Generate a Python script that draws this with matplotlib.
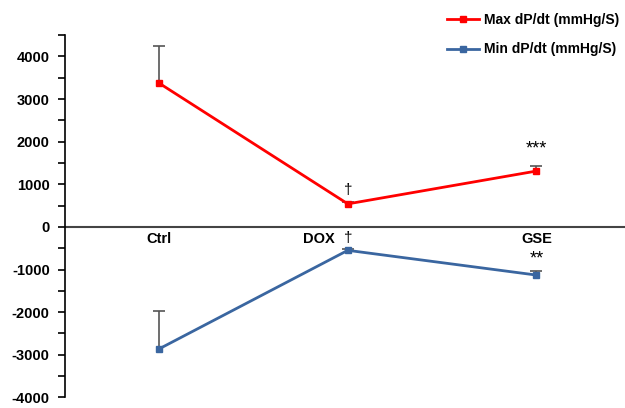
import matplotlib.pyplot as plt
from matplotlib.lines import Line2D

plt.rcParams['font.family'] = ['Liberation Sans', 'DejaVu Sans']
plt.rcParams['font.weight'] = 'bold'
plt.rcParams['axes.unicode_minus'] = False

groups = ["Ctrl", "DOX", "GSE"]
max_dpdt = [3370, 540, 1310]
max_err = [880, 40, 130]
min_dpdt = [-2860, -550, -1130]
min_err = [880, 40, 90]

RED = '#FF0000'
BLUE = '#3A66A0'
ERR = '#555555'

fig = plt.figure(figsize=(6.25, 4.08), dpi=100)
ax = fig.add_axes([0.104, 0.026, 0.905, 0.888])

x = list(range(len(groups)))


def upper_error(xs, ys, errs):
    # one-sided error bars: a stem from the point up, with a cap on top only
    tops = [y + e for y, e in zip(ys, errs)]
    ax.vlines(xs, ys, tops, color=ERR, lw=1.2, zorder=2)
    ax.plot(xs, tops, ls='none', marker='_', ms=8, mew=1.2, color=ERR, zorder=2)


upper_error(x, max_dpdt, max_err)
upper_error(x, min_dpdt, min_err)
ax.plot(x, max_dpdt, color=RED, lw=2, marker='s', ms=5, zorder=3)
ax.plot(x, min_dpdt, color=BLUE, lw=2, marker='s', ms=5, zorder=3)

ax.set_xlim(-0.5, 2.5)
ax.set_ylim(-4000, 4500)
ax.set_yticks(range(-4000, 4001, 1000))
ax.set_yticks(range(-3500, 4501, 1000), minor=True)
ax.tick_params(axis='y', which='both', direction='out', length=5, width=1.2,
               labelsize=10.5, pad=6)
ax.set_xticks([])
for side in ['top', 'right', 'bottom']:
    ax.spines[side].set_visible(False)
ax.spines['left'].set_linewidth(1.2)
ax.axhline(0, color='#444444', lw=1.5, zorder=2)

# category labels sit just below the zero line
ax.text(0, -120, "Ctrl", ha='center', va='top', fontsize=10.5)
ax.text(0.93, -120, "DOX", ha='right', va='top', fontsize=10.5)
ax.text(2, -120, "GSE", ha='center', va='top', fontsize=10.5)

# significance marks
ax.text(1, 860, "\u2020", ha='center', va='center', fontsize=11, weight='normal')
ax.text(1, -270, "\u2020", ha='center', va='center', fontsize=11, weight='normal')
ax.text(2, 1820, "***", ha='center', va='center', fontsize=13, weight='normal')
ax.text(2, -760, "**", ha='center', va='center', fontsize=13, weight='normal')

handles = [
    Line2D([], [], color=RED, lw=2, marker='s', ms=5),
    Line2D([], [], color=BLUE, lw=2, marker='s', ms=5),
]
labels = ['Max dP/dt (mmHg/S)', 'Min dP/dt (mmHg/S)']
fig.legend(handles, labels, loc='upper right', bbox_to_anchor=(1.01, 1.0),
           frameon=False, fontsize=10, handlelength=2.3, handletextpad=0.3,
           labelspacing=1.15)

fig.savefig('out.png', dpi=100)
